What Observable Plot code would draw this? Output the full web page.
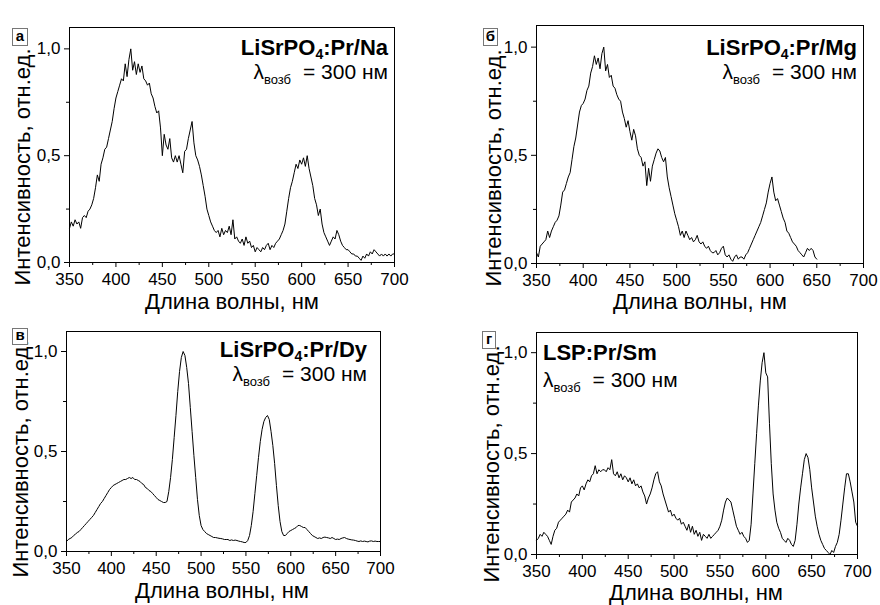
<!DOCTYPE html>
<html>
<head>
<meta charset="utf-8">
<script src="https://cdn.jsdelivr.net/npm/d3@7"></script>
<script src="https://cdn.jsdelivr.net/npm/@observablehq/plot@0.6"></script>
<style>
  html, body { margin: 0; padding: 0; background: #fff; }
  #root { position: relative; width: 880px; height: 605px; overflow: hidden; font-family: "Liberation Sans", Arial, sans-serif; }
  .panel { position: absolute; }
  .panel svg { overflow: visible; }
</style>
</head>
<body>
<div id="root"></div>
<script>
// Sampling grid (nm) used for all spectra
const WL_START = 350;
const WL_STEP = 2;

// X / Y tick values
const xMajorTicks = [350, 400, 450, 500, 550, 600, 650, 700];
const xMinorTicks = [375, 425, 475, 525, 575, 625, 675];
const yMajorTicks = [0, 0.5, 1.0];
const yMinorTicks = [0.25, 0.75];

// Panel а: LiSrPO4:Pr/Na, 350–700 nm
const specNa = [
  .16,.19,.17,.20,.18,.19,.16,.21,.22,.21,
  .24,.25,.27,.30,.35,.41,.38,.46,.49,.53,
  .54,.58,.62,.66,.72,.77,.80,.83,.86,.85,
  .93,.87,.95,1.0,.90,.94,.88,.93,.89,.92,
  .86,.85,.83,.84,.79,.77,.73,.70,.71,.63,
  .50,.60,.55,.53,.58,.49,.47,.50,.47,.50,
  .46,.42,.52,.53,.58,.62,.66,.56,.50,.48,
  .45,.41,.36,.31,.25,.22,.19,.17,.15,.14,
  .15,.12,.16,.13,.15,.14,.17,.13,.20,.11,
  .12,.10,.09,.11,.08,.12,.09,.10,.07,.08,
  .05,.07,.06,.05,.07,.06,.08,.09,.06,.08,
  .07,.09,.10,.11,.13,.15,.18,.24,.30,.35,
  .38,.42,.46,.44,.48,.46,.49,.45,.50,.44,
  .40,.36,.30,.27,.22,.25,.18,.14,.12,.10,
  .08,.10,.12,.11,.15,.13,.10,.08,.07,.06,
  .06,.05,.04,.04,.03,.03,.02,.01,.03,.02,
  .04,.03,.05,.04,.06,.05,.04,.03,.04,.03,
  .04,.03,.04,.03,.04,.04
];

// Panel б: LiSrPO4:Pr/Mg, 350–650 nm
const specMg = [
  .05,.03,.08,.09,.10,.11,.15,.12,.15,.17,
  .19,.20,.22,.27,.33,.34,.37,.40,.42,.48,
  .54,.58,.64,.70,.73,.74,.76,.80,.82,.88,
  .91,.96,.92,.95,.90,.97,1.0,.89,.92,.86,
  .87,.82,.81,.78,.76,.75,.70,.67,.63,.66,
  .61,.57,.62,.59,.53,.50,.49,.45,.47,.36,
  .44,.38,.45,.48,.51,.53,.52,.49,.47,.49,
  .40,.35,.31,.27,.23,.20,.17,.13,.15,.12,
  .15,.13,.11,.12,.10,.11,.13,.10,.09,.10,
  .08,.07,.08,.06,.05,.05,.06,.04,.05,.07,
  .08,.04,.03,.04,.02,.01,.03,.04,.02,.03,
  .03,.02,.04,.05,.07,.09,.11,.13,.15,.17,
  .19,.22,.25,.28,.33,.37,.40,.33,.29,.30,
  .27,.24,.21,.19,.15,.14,.12,.10,.09,.08,
  .06,.05,.04,.03,.05,.07,.06,.07,.06,.03,
  .02
];

// Panel в: LiSrPO4:Pr/Dy, 350–700 nm
const specDy = [
  .05,.06,.065,.07,.08,.087,.095,.10,.11,.12,
  .13,.14,.15,.16,.17,.18,.195,.21,.225,.24,
  .25,.265,.28,.295,.31,.32,.33,.335,.34,.345,
  .35,.355,.36,.36,.365,.37,.365,.37,.36,.36,
  .355,.35,.34,.335,.32,.315,.305,.30,.29,.28,
  .27,.26,.255,.25,.245,.245,.25,.30,.37,.46,
  .57,.68,.80,.90,.97,1.0,.98,.92,.84,.72,
  .60,.48,.37,.26,.18,.13,.11,.10,.09,.085,
  .08,.075,.07,.07,.068,.066,.065,.063,.06,.06,
  .06,.055,.058,.055,.057,.055,.052,.05,.048,.045,
  .045,.055,.08,.13,.20,.29,.38,.47,.55,.61,
  .65,.67,.68,.66,.60,.53,.44,.33,.23,.15,
  .10,.08,.08,.09,.10,.105,.11,.115,.12,.13,
  .13,.125,.12,.12,.11,.10,.09,.08,.075,.07,
  .065,.068,.065,.07,.072,.07,.068,.065,.07,.065,
  .06,.062,.06,.065,.068,.07,.065,.062,.06,.058,
  .057,.055,.052,.05,.053,.05,.052,.05,.048,.052,
  .053,.05,.052,.05,.05,.05
];

// Panel г: LSP:Pr/Sm, 350–700 nm
const specSm = [
  .07,.08,.10,.09,.11,.10,.09,.07,.05,.09,
  .12,.13,.16,.17,.18,.19,.20,.22,.21,.26,
  .27,.28,.30,.29,.33,.34,.32,.35,.37,.36,
  .39,.40,.44,.40,.42,.41,.42,.42,.41,.43,
  .42,.47,.40,.39,.41,.38,.40,.37,.39,.38,
  .36,.38,.35,.37,.34,.35,.33,.34,.31,.29,
  .25,.28,.30,.33,.37,.40,.41,.36,.34,.30,
  .27,.24,.21,.22,.19,.20,.18,.17,.18,.15,
  .16,.14,.12,.15,.11,.14,.10,.12,.09,.11,
  .07,.10,.09,.08,.10,.08,.09,.10,.11,.12,
  .14,.17,.22,.26,.28,.27,.26,.22,.18,.14,
  .12,.10,.11,.09,.08,.06,.07,.15,.30,.45,
  .60,.74,.86,.95,1.0,.90,.88,.65,.45,.30,
  .22,.16,.13,.11,.08,.07,.06,.08,.07,.05,
  .04,.07,.15,.25,.33,.40,.47,.50,.48,.42,
  .33,.26,.19,.14,.10,.07,.05,.03,.02,.01,
  .00,.02,.01,.04,.06,.10,.17,.25,.33,.40,
  .40,.36,.31,.26,.16,.14
];

// Texts
const panelLetters = ["а", "б", "в", "г"];
const sampleBase = ["LiSrPO", "LiSrPO", "LiSrPO", "LSP:Pr/Sm"];
const sampleSub = ["4", "4", "4", ""];
const sampleTail = [":Pr/Na", ":Pr/Mg", ":Pr/Dy", ""];
const xTitle = "Длина волны, нм";
const yTitle = "Интенсивность, отн.ед.";
const excLabel = ["λ", "возб", "= 300 нм"];

const fmt = d => d.toFixed(1).replace(".", ",");
const FONT = '"Liberation Sans", Arial, sans-serif';

// layout per panel (local SVG coordinates)
const panels = [
  { spec: specNa, left: 0,   top: 0,   m: [27, 46, 38, 69], xt: [232, 309], yt: [30, 167],
    box: [12, 28, 15, 17], ann: { anchor: "end", x: 388, y1: 55, y2: 79 } },
  { spec: specMg, left: 440, top: 0,   m: [25, 17, 37, 96], xt: [260, 309], yt: [61, 168],
    box: [43, 28, 14, 17], ann: { anchor: "end", x: 417, y1: 55, y2: 79 } },
  { spec: specDy, left: 0,   top: 300, m: [31, 60, 49, 66], xt: [222, 298], yt: [28, 159],
    box: [12, 28, 15, 16], ann: { anchor: "end", x: 367, y1: 57, y2: 81 } },
  { spec: specSm, left: 440, top: 300, m: [32, 23, 46, 96], xt: [256, 300], yt: [59, 164],
    box: [42, 31, 13, 17], ann: { anchor: "start", x: 103, y1: 60, y2: 87 } }
];

const root = document.getElementById("root");

panels.forEach((p, k) => {
  const data = p.spec.map((v, i) => ({ w: WL_START + i * WL_STEP, v }));
  const chart = Plot.plot({
    width: 440,
    height: 300,
    marginTop: p.m[0], marginRight: p.m[1], marginBottom: p.m[2], marginLeft: p.m[3],
    style: { fontFamily: FONT, fontSize: "17px", color: "black", background: "transparent", overflow: "visible" },
    x: { domain: [350, 700], label: null },
    y: { domain: [0, 1.1], label: null },
    marks: [
      Plot.axisX({ ticks: xMajorTicks, tickSize: 5, tickPadding: 5, tickFormat: d => String(d), label: null }),
      Plot.axisX({ ticks: xMinorTicks, tickSize: 3, tickFormat: () => "", label: null }),
      Plot.axisY({ ticks: yMajorTicks, tickSize: 5, tickPadding: 4, tickFormat: fmt, label: null }),
      Plot.axisY({ ticks: yMinorTicks, tickSize: 3, tickFormat: () => "", label: null }),
      Plot.line(data, { x: "w", y: "v", stroke: "black", strokeWidth: 1 }),
      Plot.frame({ stroke: "black", strokeWidth: 1 })
    ]
  });

  const svg = d3.select(chart);
  // axis titles
  svg.append("text")
    .attr("x", p.xt[0]).attr("y", p.xt[1])
    .attr("text-anchor", "middle")
    .attr("font-size", 22).attr("font-family", FONT).attr("fill", "black")
    .text(xTitle);
  svg.append("text")
    .attr("transform", `translate(${p.yt[0]},${p.yt[1]}) rotate(-90)`)
    .attr("text-anchor", "middle")
    .attr("font-size", 22).attr("font-family", FONT).attr("fill", "black")
    .text(yTitle);

  // panel letter box
  svg.append("rect")
    .attr("x", p.box[0] + 0.5).attr("y", p.box[1] + 0.5)
    .attr("width", p.box[2]).attr("height", p.box[3])
    .attr("fill", "white").attr("stroke", "#777").attr("stroke-width", 1);
  svg.append("text")
    .attr("x", p.box[0] + p.box[2] / 2 + 0.5).attr("y", p.box[1] + p.box[3] - 4)
    .attr("text-anchor", "middle")
    .attr("font-size", 15).attr("font-weight", "bold").attr("font-family", FONT).attr("fill", "black")
    .text(panelLetters[k]);

  // sample annotation
  const t1 = svg.append("text")
    .attr("x", p.ann.x).attr("y", p.ann.y1)
    .attr("text-anchor", p.ann.anchor)
    .attr("font-size", 22).attr("font-weight", "bold").attr("font-family", FONT).attr("fill", "black");
  t1.append("tspan").text(sampleBase[k]);
  if (sampleSub[k]) {
    t1.append("tspan").attr("font-size", 14).attr("dy", 4).text(sampleSub[k]);
    t1.append("tspan").attr("dy", -4).text(sampleTail[k]);
  }
  const t2 = svg.append("text")
    .attr("x", p.ann.x).attr("y", p.ann.y2)
    .attr("text-anchor", p.ann.anchor)
    .attr("font-size", 21).attr("font-family", FONT).attr("fill", "black");
  t2.append("tspan").text(excLabel[0]);
  t2.append("tspan").attr("font-size", 13).attr("dy", 5).text(excLabel[1]);
  t2.append("tspan").attr("dy", -5).attr("dx", 12).text(excLabel[2]);

  const div = document.createElement("div");
  div.className = "panel";
  div.style.left = p.left + "px";
  div.style.top = p.top + "px";
  div.appendChild(chart);
  root.appendChild(div);
});
</script>
</body>
</html>
